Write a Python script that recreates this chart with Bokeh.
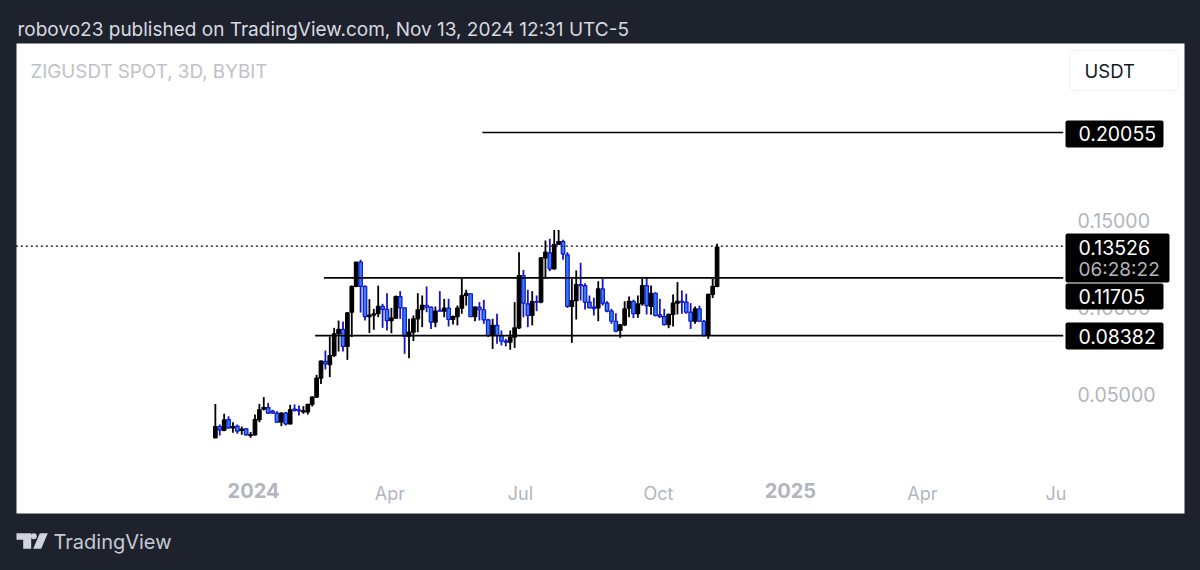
import pandas as pd
from bokeh.embed import file_html
from bokeh.resources import INLINE
from bokeh.plotting import figure
from bokeh.models import (Range1d, LinearAxis, FixedTicker, Label, BoxAnnotation,
                          PolyAnnotation, ColumnDataSource)

# ---------- data ----------
first_bar = "2023-12-06"
opens = [.0251,.0316,.0293,.0356,.0308,.0318,.0293,.0303,.0264,.0268,.0356,.0416,.0425,.0404,.0393,.0341,.0393,.0331,.0416,.0412,
         .0400,.0400,.0443,.0485,.0594,.0690,.0672,.0724,.0849,.0874,.0776,.0973,.1121,.1261,.1121,.0948,.0956,.0964,.1006,.0989,
         .0925,.0939,.1063,.0998,.0835,.0858,.0935,.0987,.1013,.1002,.0916,.0983,.0979,.0996,.0931,.0948,.0996,.1069,.1079,.0948,
         .1002,.0987,.0929,.0845,.0897,.0839,.0807,.0801,.0830,.0883,.1184,.1021,.0954,.1034,.1031,.1285,.1314,.1222,.1362,.1379,
         .1303,.1006,.1040,.1132,.1126,.1031,.1002,.0998,.1107,.1025,.0979,.0921,.0868,.0900,.0996,.1036,.0964,.1021,.1126,.1006,
         .1082,.0958,.0948,.0902,.0960,.1025,.1036,.1031,.0973,.0921,.0992,.0921,.0839,.1075,.1121]
highs = [.0446,.0328,.0389,.0375,.0341,.0328,.0316,.0307,.0284,.0385,.0446,.0485,.0452,.0412,.0404,.0398,.0400,.0441,.0443,.0437,
         .0433,.0446,.0489,.0613,.0695,.0753,.0833,.0883,.0925,.0920,.0973,.1126,.1261,.1274,.1126,.1048,.0992,.1126,.1021,.1082,
         .0998,.1069,.1094,.0998,.0935,.0954,.1082,.1069,.1121,.1006,.1006,.1094,.1050,.1050,.0954,.1011,.1165,.1102,.1082,.1006,
         .1031,.1044,.0935,.0935,.0964,.0868,.0820,.0868,.1031,.1318,.1216,.1102,.1094,.1069,.1289,.1385,.1395,.1446,.1446,.1389,
         .1318,.1165,.1213,.1257,.1140,.1069,.1056,.1151,.1165,.1036,.0992,.0967,.0906,.1036,.1063,.1044,.1069,.1165,.1174,.1126,
         .1088,.1050,.0992,.0964,.1075,.1146,.1098,.1079,.1025,.1006,.1011,.0929,.1079,.1165,.1366]
lows = [.0251,.0264,.0289,.0303,.0280,.0274,.0268,.0264,.0251,.0264,.0341,.0408,.0389,.0389,.0337,.0318,.0322,.0328,.0402,.0379,
        .0389,.0385,.0431,.0481,.0561,.0644,.0600,.0715,.0747,.0747,.0699,.0830,.1117,.0971,.0925,.0854,.0872,.0944,.0883,.0868,
        .0852,.0935,.0935,.0734,.0709,.0807,.0858,.0887,.0973,.0877,.0887,.0979,.0944,.0891,.0902,.0897,.0964,.1011,.0948,.0921,
        .0925,.0906,.0830,.0762,.0791,.0782,.0776,.0757,.0768,.0877,.0944,.0887,.0897,.0979,.1025,.1165,.1209,.1218,.1362,.1274,
        .0998,.0797,.0931,.1040,.0989,.0998,.0954,.0921,.1011,.0973,.0906,.0858,.0826,.0893,.0944,.0939,.0941,.1011,.0960,.0958,
        .0948,.0941,.0897,.0881,.0891,.0960,.0964,.0964,.0877,.0906,.0916,.0833,.0820,.1054,.1117]
closes = [.0316,.0297,.0354,.0308,.0316,.0289,.0301,.0268,.0270,.0356,.0412,.0425,.0393,.0393,.0341,.0393,.0331,.0412,.0408,.0406,
          .0406,.0443,.0485,.0594,.0692,.0676,.0724,.0849,.0874,.0776,.0969,.1121,.1261,.1121,.0948,.0956,.0964,.1006,.0989,.0925,
          .0939,.1063,.0998,.0835,.0858,.0935,.0987,.1013,.1002,.0916,.0979,.0979,.0996,.0931,.0948,.0996,.1069,.1082,.0948,.1002,
          .0987,.0929,.0839,.0897,.0839,.0807,.0801,.0830,.0883,.1184,.1025,.0954,.1034,.1031,.1285,.1318,.1222,.1362,.1379,.1308,
          .1006,.1040,.1132,.1126,.1031,.0998,.0994,.1107,.1025,.0979,.0921,.0864,.0900,.0992,.1036,.0964,.1021,.1126,.1011,.1082,
          .0954,.0948,.0902,.0960,.1025,.1036,.1031,.0973,.0921,.0992,.0921,.0839,.1075,.1121,.1347]

level_values = [0.20055, 0.11705, 0.08382]
level_starts = ["2024-06-05", "2024-02-18", "2024-02-12"]
level_end = "2025-07-06"
last_price = 0.13526
last_start = "2023-07-23"
price_ticks = [0.05, 0.10, 0.15]
month_ticks = {"2024-04-03": "Apr", "2024-07-01": "Jul", "2024-10-03": "Oct", "2025-04-01": "Apr", "2025-07-01": "Ju"}
year_ticks = {"2024-01-01": "2024", "2025-01-01": "2025"}
title_text = "robovo23 published on TradingView.com, Nov 13, 2024 12:31 UTC-5"
symbol_text = "ZIGUSDT SPOT, 3D, BYBIT"
currency_text = "USDT"
countdown_text = "06:28:22"
brand_text = "TradingView"

# ---------- scales ----------
DARK = "#1e222d"
GREY = "#b2b5be"
FONT = "Inter"
MS_DAY = 86400000.0
EPOCH = pd.Timestamp("1970-01-01")


def ms(d):
    return int((pd.Timestamp(d) - EPOCH) / pd.Timedelta("1ms"))


PX_PER_DAY = 1.467
PX_PER_UNIT = 1740.0
x0 = ms("2024-01-01")


def x_at(px):
    return x0 + (px - 253) / PX_PER_DAY * MS_DAY


def y_at(py):
    return 0.15 + (220 - py) / PX_PER_UNIT


p = figure(width=1200, height=570, output_backend="svg", toolbar_location=None,
           x_axis_location=None, y_axis_location=None,
           x_range=Range1d(x_at(0), x_at(1200)), y_range=Range1d(y_at(570), y_at(0)),
           min_border=0, min_border_left=0, min_border_right=0, min_border_top=0, min_border_bottom=0)
p.background_fill_color = DARK
p.border_fill_color = DARK
p.outline_line_color = None
p.grid.visible = False


def canvas_box(l, r, t, b, color, radius=0, line=None, level="annotation"):
    p.add_layout(BoxAnnotation(left=l, right=r, top=t, bottom=b,
                               left_units="canvas", right_units="canvas", top_units="canvas", bottom_units="canvas",
                               fill_color=color, fill_alpha=1, line_color=line, line_alpha=1 if line else 0,
                               border_radius=radius, level=level, editable=False))


def canvas_text(px, py, text, size, color, style="normal", baseline="middle", align="left"):
    p.add_layout(Label(x=px, y=py, x_units="canvas", y_units="canvas", text=text,
                       text_font=FONT, text_font_size=f"{size}px", text_color=color, text_font_style=style,
                       text_baseline=baseline, text_align=align))


# white panel
canvas_box(16, 1184, 43, 513, "#ffffff", level="underlay")

# candles
dates = pd.date_range(first_bar, periods=len(opens), freq="3D")
xs = [ms(d) for d in dates]
is_up = [c >= o for o, c in zip(opens, closes)]
src = ColumnDataSource(dict(
    x=xs, high=highs, low=lows,
    top=[max(o, c) for o, c in zip(opens, closes)],
    bottom=[min(o, c) for o, c in zip(opens, closes)],
    wick=["#000000" if u else "#1414c8" for u in is_up],
    fill=["#000000" if u else "#2f7ff5" for u in is_up],
))
p.segment(x0="x", y0="low", x1="x", y1="high", source=src, line_color="wick", line_width=1.8)
p.vbar(x="x", top="top", bottom="bottom", width=2.4 * MS_DAY, source=src,
       fill_color="fill", line_color="wick", line_width=1.2)

# horizontal levels
p.segment(x0=[ms(s) for s in level_starts], y0=level_values,
          x1=[ms(level_end)] * 3, y1=level_values, line_color="#000000", line_width=1.6)
p.segment(x0=[ms(last_start)], y0=[last_price], x1=[ms(level_end)], y1=[last_price],
          line_color="#000000", line_width=1.4, line_dash="2 3")

# axes inside the panel
def x_axis(ticks, style, size):
    ax = LinearAxis(ticker=FixedTicker(ticks=[ms(k) for k in ticks]),
                    major_label_overrides={ms(k): v for k, v in ticks.items()},
                    fixed_location=y_at(473), axis_line_color=None,
                    major_tick_line_color=None, minor_tick_line_color=None,
                    major_label_standoff=3, major_label_text_color=GREY,
                    major_label_text_font=FONT, major_label_text_font_size=f"{size}px",
                    major_label_text_font_style=style)
    p.add_layout(ax, "below")


x_axis(month_ticks, "normal", 18)
x_axis(year_ticks, "bold", 20)

y_ax = LinearAxis(ticker=FixedTicker(ticks=price_ticks), fixed_location=x_at(1064),
                  axis_line_color=None, major_tick_line_color=None, minor_tick_line_color=None,
                  major_label_standoff=7, major_label_text_color=GREY,
                  major_label_text_font=FONT, major_label_text_font_size="19.5px",
                  major_label_overrides={v: f"{v:.5f}" for v in price_ticks})
p.add_layout(y_ax, "right")

# price tags
canvas_box(1065, 1169, 233, 282, "#000000", radius=2)
canvas_box(1065, 1163, 120, 147, "#000000", radius=2)
canvas_box(1065, 1163, 283, 309, "#000000", radius=2)
canvas_box(1065, 1163, 322, 349, "#000000", radius=2)
for py, v in zip((133, 296, 336), level_values):
    canvas_text(1078, py, f"{v:.5f}", 19.5, "#ffffff")
canvas_text(1078, 247, f"{last_price:.5f}", 19.5, "#ffffff")
canvas_text(1078, 269, countdown_text, 19, GREY)

# header, symbol, currency box
canvas_text(17, 29, title_text, 19, "#d8dae0")
canvas_text(30, 71, symbol_text, 18.8, "#bfc1c8")
canvas_box(1069, 1178, 50, 90, "#ffffff", radius=5, line="#f0f1f4")
canvas_text(1084, 70, currency_text, 18.5, "#131722")

# brand
logo = "#d1d4dc"
p.add_layout(PolyAnnotation(xs=[16, 30.7, 30.7, 22.7, 22.7, 16], ys=[532.7, 532.7, 548.3, 548.3, 539.3, 539.3],
                            xs_units="canvas", ys_units="canvas", fill_color=logo, fill_alpha=1,
                            line_color=None, editable=False))
p.add_layout(PolyAnnotation(xs=[39.3, 47.3, 40.7, 32.7], ys=[532.7, 532.7, 548.3, 548.3],
                            xs_units="canvas", ys_units="canvas", fill_color=logo, fill_alpha=1,
                            line_color=None, editable=False))
canvas_box(30.3, 36.3, 532.7, 538.7, logo, radius=3)
canvas_text(53, 541, brand_text, 20, "#c6cad3")

html = file_html(p, INLINE)
html = html.replace("<head>", f"<head><style>html,body{{background:{DARK};margin:0;}}</style>", 1)
open("out.html", "w").write(html)
